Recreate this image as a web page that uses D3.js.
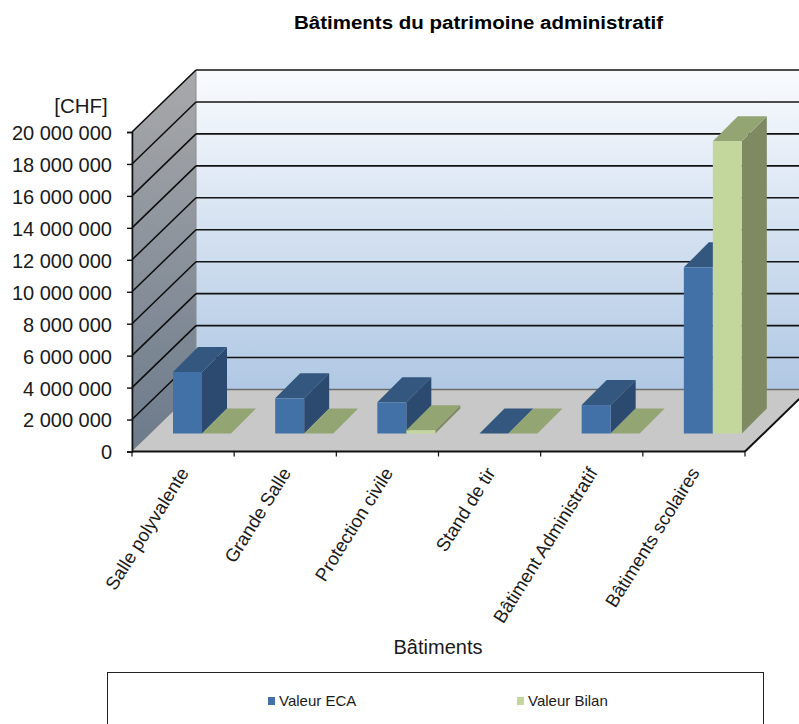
<!DOCTYPE html>
<html>
<head>
<meta charset="utf-8">
<script src="https://d3js.org/d3.v7.min.js"></script>
<style>
  html, body { margin: 0; padding: 0; background: #fff; overflow: hidden; }
  text { font-family: "Liberation Sans", Arial, sans-serif; fill: #1a1a1a; }
</style>
</head>
<body>
<div id="chart"></div>
<script>
const categories = ['Salle polyvalente', 'Grande Salle', 'Protection civile', 'Stand de tir', 'Bâtiment Administratif', 'Bâtiments scolaires'];
const seriesNames = ['Valeur ECA', 'Valeur Bilan'];
const valeurECA = [3850000, 2200000, 1950000, 0, 1780000, 10400000];
const valeurBilan = [0, 0, 200000, 0, 0, 18300000];
const yTicks = [0, 2000000, 4000000, 6000000, 8000000, 10000000, 12000000, 14000000, 16000000, 18000000, 20000000];

const width = 799, height = 724;
const left = 132, right = 745, top0 = 132, bottom = 451.5;
const wallDx = 64, wallDy = 62;   // depth of the 3d box
const barDepth = 25;              // depth of a bar
const barShiftX = 19, barShiftY = 18; // bars stand a bit behind the front edge

const colors = {
    'Valeur ECA': { front: '#4271a8', top: '#33577f', side: '#2c4a70' },
    'Valeur Bilan': { front: '#c3d69b', top: '#93a573', side: '#7f8a63' }
};

const svg = d3.select('#chart').append('svg')
    .attr('width', width)
    .attr('height', height);

const x = d3.scaleBand().domain(categories).range([left, right]);
const xSeries = d3.scaleBand().domain(seriesNames).range([22, 80]);
const y = d3.scaleLinear().domain([0, 20000000]).range([bottom, top0]);

const spaced = d3.formatLocale({ decimal: ',', thousands: ' ', grouping: [3], currency: ['', ''] }).format(',d');

function poly(points) {
    return 'M' + points.map(function (p) { return p[0] + ',' + p[1]; }).join('L') + 'Z';
}

// gradients for the walls
const defs = svg.append('defs');
const backGrad = defs.append('linearGradient').attr('id', 'backWall').attr('x1', 0).attr('y1', 0).attr('x2', 0).attr('y2', 1);
backGrad.append('stop').attr('offset', '0%').attr('stop-color', '#f9fbfe');
backGrad.append('stop').attr('offset', '100%').attr('stop-color', '#b0c8e4');
const leftGrad = defs.append('linearGradient').attr('id', 'leftWall').attr('x1', 0).attr('y1', 0).attr('x2', 0).attr('y2', 1);
leftGrad.append('stop').attr('offset', '0%').attr('stop-color', '#a8a9ab');
leftGrad.append('stop').attr('offset', '100%').attr('stop-color', '#6c7a8b');

// walls and floor
svg.append('rect')
    .attr('x', left + wallDx)
    .attr('y', top0 - wallDy)
    .attr('width', right - left)
    .attr('height', bottom - top0)
    .attr('fill', 'url(#backWall)');

svg.append('path')
    .attr('d', poly([[left, top0], [left + wallDx, top0 - wallDy], [left + wallDx, bottom - wallDy], [left, bottom]]))
    .attr('fill', 'url(#leftWall)')
    .attr('stroke', '#8a8a8a')
    .attr('stroke-width', 1);

svg.append('path')
    .attr('d', poly([[left, bottom], [left + wallDx, bottom - wallDy], [right + wallDx, bottom - wallDy], [right, bottom]]))
    .attr('fill', '#c8c8c8');

svg.append('line')
    .attr('x1', left + wallDx).attr('x2', right + wallDx)
    .attr('y1', bottom - wallDy).attr('y2', bottom - wallDy)
    .attr('stroke', '#6b6b6b')
    .attr('stroke-width', 1.5);

// grid lines on both walls
const gridValues = yTicks.filter(function (d) { return d > 0; });
svg.append('g').selectAll('line.back').data(gridValues).enter().append('line')
    .attr('x1', left + wallDx).attr('x2', right + wallDx)
    .attr('y1', function (d) { return y(d) - wallDy; })
    .attr('y2', function (d) { return y(d) - wallDy; })
    .attr('stroke', '#121212')
    .attr('stroke-width', 1.6);
svg.append('g').selectAll('line.side').data(gridValues).enter().append('line')
    .attr('x1', left).attr('x2', left + wallDx)
    .attr('y1', function (d) { return y(d); })
    .attr('y2', function (d) { return y(d) - wallDy; })
    .attr('stroke', '#0c0c0c')
    .attr('stroke-width', 1.5);

// bars
const barData = [];
categories.forEach(function (c, i) {
    barData.push({ cat: c, name: seriesNames[0], value: valeurECA[i] });
    barData.push({ cat: c, name: seriesNames[1], value: valeurBilan[i] });
});

const bars = svg.append('g').selectAll('g').data(barData).enter().append('g');

bars.each(function (d) {
    const g = d3.select(this);
    const x0 = x(d.cat) + xSeries(d.name) + barShiftX;
    const x1 = x0 + xSeries.bandwidth();
    const yBase = y(0) - barShiftY;
    const yTop = y(d.value) - barShiftY;
    const col = colors[d.name];
    if (d.value > 0) {
        g.append('path')
            .attr('d', poly([[x1, yTop], [x1 + barDepth, yTop - barDepth], [x1 + barDepth, yBase - barDepth], [x1, yBase]]))
            .attr('fill', col.side);
    }
    g.append('path')
        .attr('d', poly([[x0, yTop], [x0 + barDepth, yTop - barDepth], [x1 + barDepth, yTop - barDepth], [x1, yTop]]))
        .attr('fill', col.top);
    if (d.value > 0) {
        g.append('rect')
            .attr('x', x0)
            .attr('y', yTop)
            .attr('width', x1 - x0)
            .attr('height', yBase - yTop)
            .attr('fill', col.front);
    }
});

// y axis
const yAxis = d3.axisLeft(y).tickValues(yTicks).tickFormat(spaced).tickSize(5).tickPadding(15);
const yG = svg.append('g').attr('transform', 'translate(' + left + ',0)').call(yAxis);
yG.select('.domain').attr('stroke', '#111').attr('stroke-width', 1.6);
yG.selectAll('.tick line').attr('stroke', '#111').attr('stroke-width', 1.4);
yG.selectAll('text')
    .style('font-family', '"Liberation Sans", Arial, sans-serif')
    .style('font-size', '20px')
    .attr('fill', '#1a1a1a')
    .attr('y', 1);

// x axis, the ticks sit between the categories
const xAxis = d3.axisBottom(x).tickSize(0).tickPadding(22);
const xG = svg.append('g').attr('transform', 'translate(0,' + bottom + ')').call(xAxis);
xG.select('.domain').remove();
xG.selectAll('text')
    .style('font-family', '"Liberation Sans", Arial, sans-serif')
    .style('font-size', '18.5px')
    .attr('fill', '#1a1a1a')
    .attr('text-anchor', 'end')
    .attr('dx', 4)
    .attr('dy', 5)
    .attr('transform', 'rotate(-58 0 22)');

svg.append('line')
    .attr('x1', left).attr('x2', right)
    .attr('y1', bottom).attr('y2', bottom)
    .attr('stroke', '#111')
    .attr('stroke-width', 2);
svg.append('g').selectAll('line').data(categories).enter().append('line')
    .attr('x1', function (d) { return x(d) + x.step(); })
    .attr('x2', function (d) { return x(d) + x.step(); })
    .attr('y1', bottom)
    .attr('y2', bottom + 5)
    .attr('stroke', '#111')
    .attr('stroke-width', 1.2);
svg.append('line')
    .attr('x1', left).attr('x2', left)
    .attr('y1', bottom).attr('y2', bottom + 5)
    .attr('stroke', '#111')
    .attr('stroke-width', 1.2);
svg.append('line')
    .attr('x1', right).attr('x2', right + wallDx)
    .attr('y1', bottom).attr('y2', bottom - wallDy)
    .attr('stroke', '#111')
    .attr('stroke-width', 2);

// titles
svg.append('text')
    .attr('x', 478.5).attr('y', 29)
    .attr('text-anchor', 'middle')
    .attr('textLength', 369)
    .attr('lengthAdjust', 'spacingAndGlyphs')
    .style('font-size', '18px')
    .style('font-weight', 'bold')
    .style('fill', '#000')
    .text('Bâtiments du patrimoine administratif');
svg.append('text')
    .attr('x', 81).attr('y', 113)
    .attr('text-anchor', 'middle')
    .style('font-size', '20.5px')
    .text('[CHF]');
svg.append('text')
    .attr('x', 438).attr('y', 654)
    .attr('text-anchor', 'middle')
    .style('font-size', '20px')
    .text('Bâtiments');

// legend, the box runs out of the picture at the bottom
svg.append('rect')
    .attr('x', 107.5).attr('y', 672.5)
    .attr('width', 656).attr('height', 70)
    .attr('fill', '#fff')
    .attr('stroke', '#222')
    .attr('stroke-width', 1);
const legendX = d3.scaleOrdinal().domain(seriesNames).range([268, 517]);
const legend = svg.append('g').selectAll('g').data(seriesNames).enter().append('g')
    .attr('transform', function (d) { return 'translate(' + legendX(d) + ',697)'; });
legend.append('rect')
    .attr('width', 7).attr('height', 8)
    .attr('fill', function (d) { return colors[d].front; });
legend.append('text')
    .attr('x', 11).attr('y', 9)
    .style('font-size', '15px')
    .text(function (d) { return d; });
</script>
</body>
</html>
